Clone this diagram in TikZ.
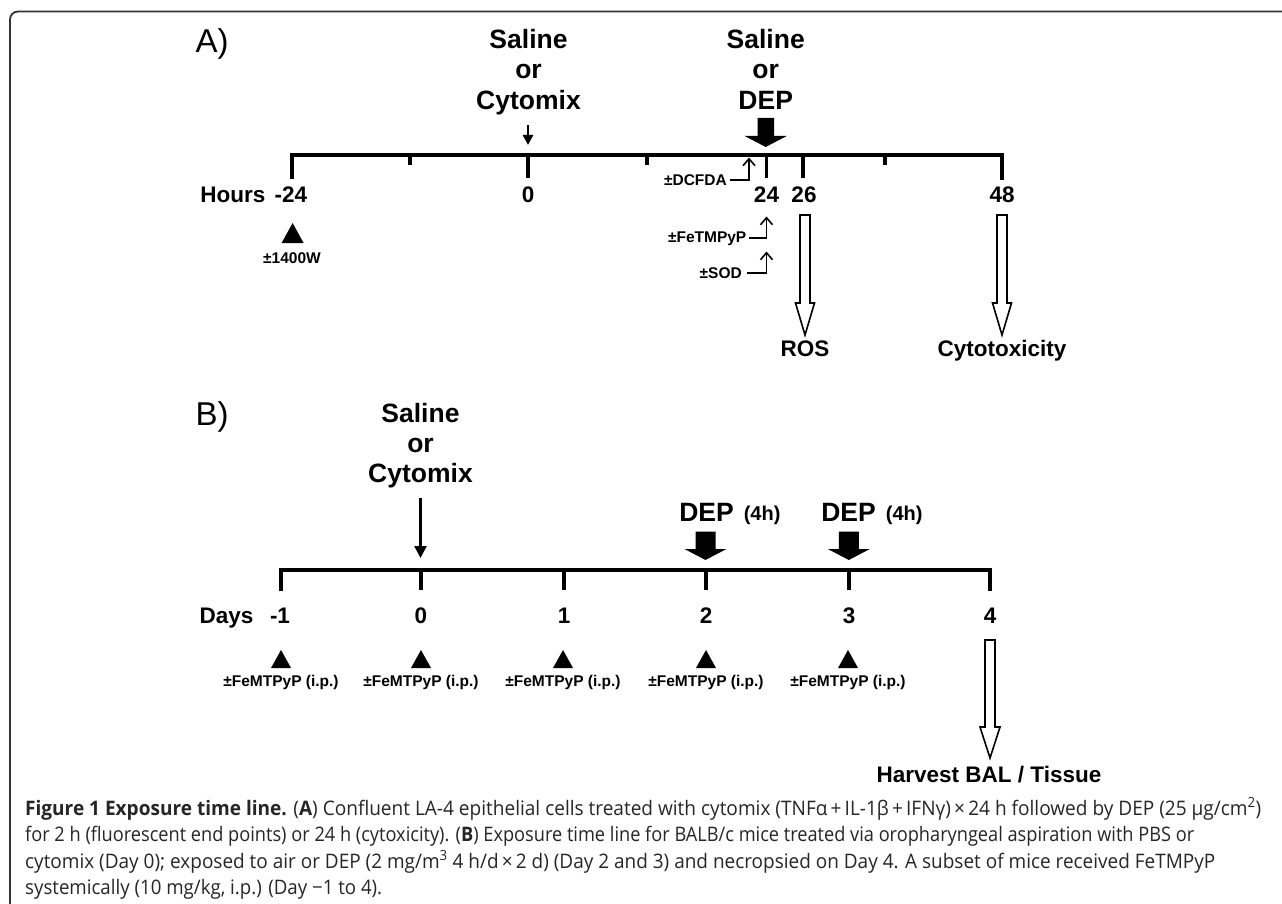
\documentclass[tikz,border=0pt]{standalone}
\usepackage{fontspec}
\setmainfont{Liberation Sans}
\newfontfamily\capfont{Open Sans}
\usetikzlibrary{arrows.meta}
\newcommand\fsz[1]{\fontsize{#1}{#1}\selectfont}
\begin{document}
\begin{tikzpicture}[x=1pt,y=-1pt,
  big/.style={font=\bfseries\fsz{26.5}, inner sep=0pt, anchor=base},
  mid/.style={font=\bfseries\fsz{22.5}, inner sep=0pt, anchor=base},
  sml/.style={font=\bfseries\fsz{15.5}, inner sep=0pt, anchor=base},
  hsml/.style={font=\bfseries\fsz{20}, inner sep=0pt, anchor=base west},
  panel/.style={font=\fsz{33}, inner sep=0pt, anchor=base},
  axis/.style={line width=4pt, line join=miter},
  tickmark/.style={line width=3.5pt},
  hollow/.style={draw=black, line width=1.6pt, fill=white, line join=miter},
  elbow/.style={line width=1.6pt, -{Straight Barb[length=7pt,width=12pt]}},
  thin arrow/.style={line width=2.5pt},
  captext/.style={font=\capfont\fsz{20}, text=black!85, inner sep=0pt, anchor=base west},
]
\useasboundingbox (0,0) rectangle (1282,904);
\fill[white] (0,0) rectangle (1282,904);
\draw[line width=1.8pt, black!80, rounded corners=8pt] (10,905) -- (10,11.5) -- (1283,11.5);

% ---------------- Panel A ----------------
\node[panel] (pA) at (212,52.5) {A)};
\node[big] (salA) at (528.5,48.5) {Saline};
\node[big] (orA) at (528.5,79) {or};
\node[big] (cytA) at (528.5,109.5) {Cytomix};
\node[big] (salA2) at (765.7,48.5) {Saline};
\node[big] (orA2) at (765.7,79) {or};
\node[big] (depA) at (765.7,109.5) {DEP};

\coordinate (a0top) at (528,125);
\coordinate (a0) at (528,145);
\draw[thin arrow, -{Triangle[length=10pt,width=10pt]}] (a0top) -- (a0);

% big solid arrow at 24
\fill (757.5,118) -- (774,118) -- (774,136) -- (786.7,136) -- (765.7,147) -- (744.7,136) -- (757.5,136) -- cycle;

% timeline A
\draw[axis] (292,179) -- (292,155) -- (1002,155) -- (1002,180);
\foreach \x in {410,647,885} \draw[tickmark] (\x,155) -- (\x,165);
\foreach \x in {528,766.5,803} \draw[tickmark] (\x,155) -- (\x,178);

\node[mid] (hours) at (233,203) {Hours};
\node[mid] (hm24) at (291,203) {-24};
\node[mid] (h0) at (528,203) {0};
\node[mid] (h24) at (766.5,203) {24};
\node[mid] (h26) at (804,203) {26};
\node[mid] (h48) at (1002,203) {48};

% elbow arrows
\node[sml, anchor=base east] (dcfda) at (727,185.5) {±DCFDA};
\coordinate (dcT) at (749,157.5);
\draw[elbow] (730,180) -| (dcT);
\node[sml, anchor=base east] (fet) at (746.5,243) {±FeTMPyP};
\coordinate (feT) at (766.5,216.5);
\draw[elbow] (748.5,238) -| (feT);
\node[sml, anchor=base east] (sod) at (742,278.5) {±SOD};
\coordinate (soT) at (766.5,251.5);
\draw[elbow] (746.5,273) -| (soT);

% triangle -24
\fill (292.6,223) -- (303.6,243) -- (281.6,243) -- cycle;
\node[sml] (w1400) at (292,263.5) {±1400W};

% hollow arrows A
\draw[hollow] (800,215) -- (810,215) -- (810,303) -- (814.5,303) -- (805,335) -- (795.5,303) -- (800,303) -- cycle;
\draw[hollow] (997,215) -- (1007,215) -- (1007,303) -- (1011.5,303) -- (1002,335) -- (992.5,303) -- (997,303) -- cycle;
\node[mid] (ros) at (805,356) {ROS};
\node[mid] (cytox) at (1002,356) {Cytotoxicity};

% ---------------- Panel B ----------------
\node[panel] (pB) at (212,425.5) {B)};
\node[big] (salB) at (420.5,422.5) {Saline};
\node[big] (orB) at (420.5,452.5) {or};
\node[big] (cytB) at (420.5,482.5) {Cytomix};
\coordinate (b0top) at (420.5,498);
\coordinate (b0) at (420.5,558);
\draw[thin arrow, -{Triangle[length=12pt,width=12pt]}] (b0top) -- (b0);

\node[big] (depB1) at (706.5,521) {DEP};
\node[hsml] (h4a) at (743.6,520) {(4h)};
\node[big] (depB2) at (848.5,521) {DEP};
\node[hsml] (h4b) at (885.7,520) {(4h)};

\foreach \c in {705.5,848.8} {
  \fill (\c-10,531.7) -- (\c+10,531.7) -- (\c+10,549) -- (\c+21,549) -- (\c,560) -- (\c-21,549) -- (\c-10,549) -- cycle;
}

% timeline B
\draw[axis] (281,591) -- (281,570) -- (990,570) -- (990,591);
\foreach \x in {421,564,706,849} \draw[tickmark] (\x,570) -- (\x,590);

\node[mid] (days) at (226.5,623) {Days};
\node[mid] (dm1) at (280,623) {-1};
\node[mid] (d0) at (421,623) {0};
\node[mid] (d1) at (564,623) {1};
\node[mid] (d2) at (706,623) {2};
\node[mid] (d3) at (849,623) {3};
\node[mid] (d4) at (990,623) {4};

\foreach \x/\n in {281/1,421/2,563/3,706/4,848/5} {
  \fill (\x,650) -- (\x+10,668) -- (\x-10,668) -- cycle;
  \node[sml] (fm\n) at (\x,686) {±FeMTPyP (i.p.)};
}

\draw[hollow] (985,640) -- (995,640) -- (995,727) -- (1000,727) -- (990,758) -- (980,727) -- (985,727) -- cycle;
\node[mid] (harv) at (989,782) {Harvest BAL / Tissue};

% ---------------- Caption ----------------
\node[captext] (cap1) at (25,815) {\resizebox{1236pt}{\height}{{\bfseries Figure 1 Exposure time line.} ({\bfseries A}) Confluent LA-4 epithelial cells treated with cytomix (TNFα\,+\,IL-1β\,+\,IFNγ)\,×\,24 h followed by DEP (25 μg/cm\textsuperscript{2})}};
\node[captext] (cap2) at (25,841.5) {\resizebox{1169pt}{\height}{for 2 h (fluorescent end points) or 24 h (cytoxicity). ({\bfseries B}) Exposure time line for BALB/c mice treated via oropharyngeal aspiration with PBS or}};
\node[captext] (cap3) at (25,868) {\resizebox{1190pt}{\height}{cytomix (Day 0); exposed to air or DEP (2 mg/m\textsuperscript{3} 4 h/d\,×\,2 d) (Day 2 and 3) and necropsied on Day 4. A subset of mice received FeTMPyP}};
\node[captext] (cap4) at (25,894.5) {\resizebox{357pt}{\height}{systemically (10 mg/kg, i.p.) (Day −1 to 4).}};
\end{tikzpicture}
\end{document}
